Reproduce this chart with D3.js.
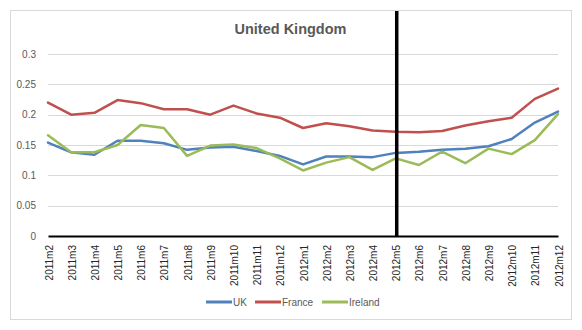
<!DOCTYPE html>
<html><head><meta charset="utf-8">
<script src="https://cdn.jsdelivr.net/npm/d3@7"></script>
<style>body{margin:0;background:#fff}svg{display:block;font-family:"Liberation Sans",Arial,sans-serif}</style>
</head><body><svg id="c" width="582" height="330"></svg>
<script>
const categories = ["2011m2","2011m3","2011m4","2011m5","2011m6","2011m7","2011m8","2011m9","2011m10","2011m11","2011m12","2012m1","2012m2","2012m3","2012m4","2012m5","2012m6","2012m7","2012m8","2012m9","2012m10","2012m11","2012m12"];
const uk      = [0.154,0.138,0.134,0.157,0.157,0.153,0.142,0.146,0.147,0.140,0.132,0.118,0.131,0.131,0.130,0.137,0.139,0.142,0.144,0.148,0.160,0.187,0.205];
const france  = [0.220,0.200,0.203,0.224,0.219,0.209,0.209,0.200,0.215,0.202,0.195,0.178,0.186,0.181,0.174,0.172,0.171,0.173,0.182,0.189,0.195,0.226,0.243];
const ireland = [0.166,0.138,0.138,0.150,0.183,0.178,0.132,0.149,0.151,0.145,0.128,0.108,0.121,0.130,0.109,0.128,0.117,0.139,0.120,0.144,0.135,0.158,0.201];
const yTicks = [0,0.05,0.1,0.15,0.2,0.25,0.3];
const markerCategory = "2012m5";
const seriesNames = ["UK","France","Ireland"];
const seriesColors = ["#4f81bd","#c0504d","#9bbb59"];
const series = [uk, france, ireland];

const svg = d3.select("#c");
// chart border
svg.append("rect").attr("x",10.5).attr("y",10.5).attr("width",561).attr("height",309)
  .attr("fill","#fff").attr("stroke","#d9d9d9").attr("stroke-width",1);

const x = d3.scalePoint().domain(categories).range([48,558]);
const y = d3.scaleLinear().domain([0,0.3]).range([236,54]);

// gridlines
svg.append("g").selectAll("line").data(yTicks.filter(d=>d>0)).join("line")
  .attr("x1",48).attr("x2",558).attr("y1",d=>Math.round(y(d))+0.5).attr("y2",d=>Math.round(y(d))+0.5)
  .attr("stroke","#d9d9d9").attr("stroke-width",1);

// y axis labels
const ya = svg.append("g").attr("transform","translate(40,0)")
  .call(d3.axisLeft(y).tickValues(yTicks).tickSize(0).tickPadding(4).tickFormat(d=>String(d)));
ya.select(".domain").remove();
ya.selectAll("text").attr("fill","#595959").attr("font-size",10).attr("font-family","Liberation Sans, Arial, sans-serif");

// x axis
const xa = svg.append("g").attr("transform","translate(0,236)")
  .call(d3.axisBottom(x).tickSize(0).tickPadding(0));
xa.select(".domain").attr("stroke","#000").attr("stroke-width",2);
xa.selectAll("text").attr("fill","#262626").attr("font-size",10).attr("font-family","Liberation Sans, Arial, sans-serif")
  .attr("text-anchor","end").attr("dy",null)
  .attr("transform","translate(4,9) rotate(-90)").attr("x",0).attr("y",0);

// lines
const line = d3.line().x((d,i)=>x(categories[i])).y(d=>y(d));
series.forEach((s,k)=>{
  svg.append("path").datum(s).attr("d",line).attr("fill","none")
    .attr("stroke",seriesColors[k]).attr("stroke-width",2.5).attr("stroke-linejoin","round").attr("stroke-linecap","round");
});

// vertical marker
svg.append("line").attr("x1",x(markerCategory)+1).attr("x2",x(markerCategory)+1)
  .attr("y1",11).attr("y2",237).attr("stroke","#000").attr("stroke-width",3.5);

// title
svg.append("text").attr("x",290.5).attr("y",34).attr("text-anchor","middle")
  .attr("font-size",14.5).attr("font-weight","bold").attr("fill","#595959").text("United Kingdom");

// legend
const legX = [206,255,322];
const lg = svg.append("g");
seriesNames.forEach((n,k)=>{
  lg.append("line").attr("x1",legX[k]).attr("x2",legX[k]+26).attr("y1",302).attr("y2",302)
    .attr("stroke",seriesColors[k]).attr("stroke-width",3);
  lg.append("text").attr("x",legX[k]+27).attr("y",306).attr("font-size",10).attr("fill","#595959").text(n);
});
</script></body></html>
